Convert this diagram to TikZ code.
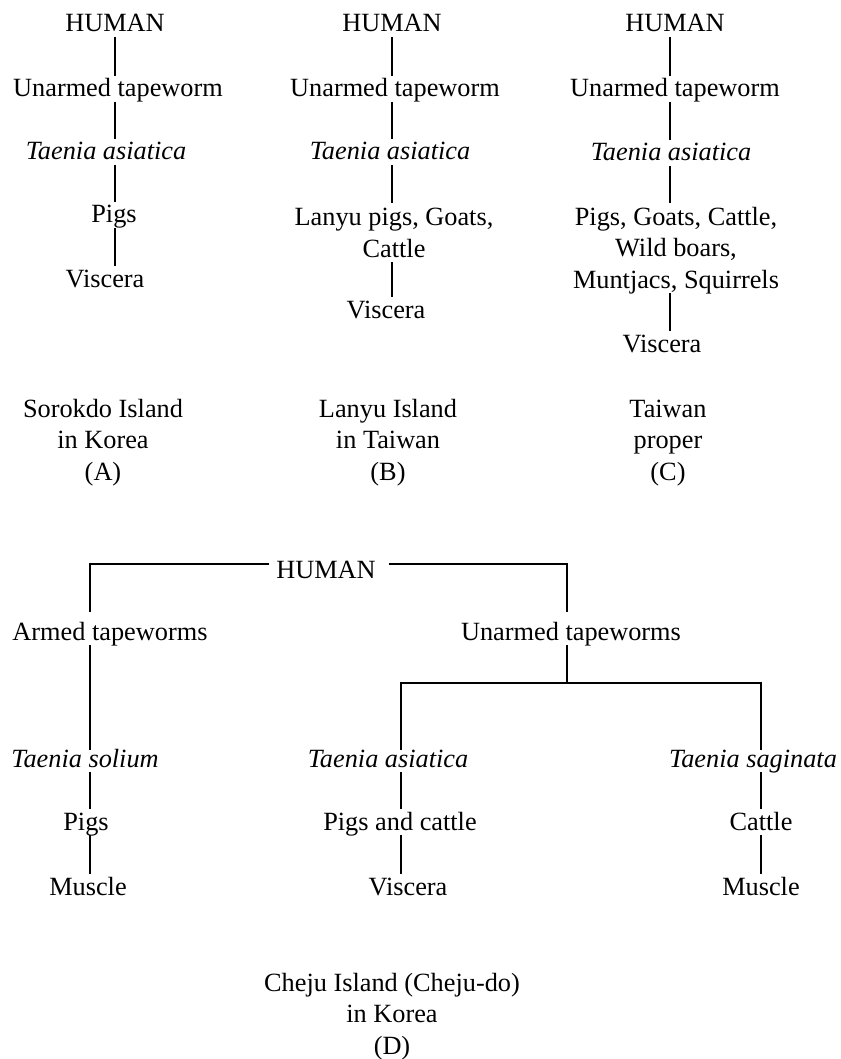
\documentclass[tikz,border=0pt]{standalone}
\usepackage{fontspec}
\setmainfont{Liberation Serif}
\begin{document}
\begin{tikzpicture}[x=1pt,y=-1pt,
  lbl/.style={font=\fontsize{26.3}{31.5}\selectfont, inner sep=0pt, outer sep=0pt, anchor=base, text depth=5pt},
  one/.style={lbl, text height=21pt},
  multi/.style={lbl},
  capt/.style={font=\fontsize{26.3}{31.5}\selectfont, inner sep=0pt, anchor=base},
  conn/.style={line width=1.4pt}]
\useasboundingbox (0,0) rectangle (840,1059);
\coordinate (cA) at (115,0);
\coordinate (cB) at (392,0);
\coordinate (cC) at (670,0);
% Panel A
\node[one] (hA) at (115,32) {HUMAN};
\node[one] (uA) at (118,97) {Unarmed tapeworm};
\node[one] (tA) at (106,160) {\itshape Taenia asiatica};
\node[one] (pA) at (114,223) {Pigs};
\node[one] (vA) at (105,287) {Viscera};
\draw[conn] (hA.south -| cA) -- (uA.north -| cA);
\draw[conn] (uA.south -| cA) -- (tA.north -| cA);
\draw[conn] (tA.south -| cA) -- (pA.north -| cA);
\draw[conn] (pA.south -| cA) -- (vA.north -| cA);
% Panel B
\node[one] (hB) at (392,32) {HUMAN};
\node[one] (uB) at (395,97) {Unarmed tapeworm};
\node[one] (tB) at (390,160) {\itshape Taenia asiatica};
\node[multi] (pB) at (394,257) {\begin{tabular}[b]{@{}c@{}}Lanyu pigs, Goats,\\Cattle\end{tabular}};
\node[one] (vB) at (386,318) {Viscera};
\draw[conn] (hB.south -| cB) -- (uB.north -| cB);
\draw[conn] (uB.south -| cB) -- (tB.north -| cB);
\draw[conn] (tB.south -| cB) -- (pB.north -| cB);
\draw[conn] (pB.south -| cB) -- (vB.north -| cB);
% Panel C
\node[one] (hC) at (675,32) {HUMAN};
\node[one] (uC) at (675,97) {Unarmed tapeworm};
\node[one] (tC) at (671,161) {\itshape Taenia asiatica};
\node[multi] (pC) at (676,288) {\begin{tabular}[b]{@{}c@{}}Pigs, Goats, Cattle,\\Wild boars,\\Muntjacs, Squirrels\end{tabular}};
\node[one] (vC) at (662,352) {Viscera};
\draw[conn] (hC.south -| cC) -- (uC.north -| cC);
\draw[conn] (uC.south -| cC) -- (tC.north -| cC);
\draw[conn] (tC.south -| cC) -- (pC.north -| cC);
\draw[conn] (pC.south -| cC) -- (vC.north -| cC);
% Captions
\node[capt] (kA) at (103,480) {\begin{tabular}[b]{@{}c@{}}Sorokdo Island\\in Korea\\(A)\end{tabular}};
\node[capt] (kB) at (388,480) {\begin{tabular}[b]{@{}c@{}}Lanyu Island\\in Taiwan\\(B)\end{tabular}};
\node[capt] (kC) at (668,480) {\begin{tabular}[b]{@{}c@{}}Taiwan\\proper\\(C)\end{tabular}};
% Panel D
\coordinate (cL) at (90,0);
\coordinate (cR) at (567,0);
\coordinate (cM) at (401,0);
\coordinate (cS) at (761,0);
\coordinate (jD) at (567,683);
\node[one] (hD) at (326,578) {HUMAN};
\node[one] (aD) at (110,640) {Armed tapeworms};
\node[one] (uD) at (571,640) {Unarmed tapeworms};
\node[one] (tsD) at (85,767) {\itshape Taenia solium};
\node[one] (psD) at (86,830) {Pigs};
\node[one] (msD) at (88,895) {Muscle};
\node[one] (tasD) at (388,767) {\itshape Taenia asiatica};
\node[one] (pcD) at (400,830) {Pigs and cattle};
\node[one] (vD) at (408,895) {Viscera};
\node[one] (tsgD) at (753,767) {\itshape Taenia saginata};
\node[one] (cD) at (761,830) {Cattle};
\node[one] (mD) at (761,895) {Muscle};
\draw[conn, shorten >=7pt] ([xshift=-7pt,yshift=14pt]hD.base west) -| (aD.north -| cL);
\draw[conn, shorten >=7pt] ([xshift=13pt,yshift=14pt]hD.base east) -| (uD.north -| cR);
\draw[conn, shorten >=-4pt] (aD.south -| cL) -- (tsD.north -| cL);
\draw[conn] (tsD.south -| cL) -- (psD.north -| cL);
\draw[conn] (psD.south -| cL) -- (msD.north -| cL);
\draw[conn] (uD.south -| cR) -- (jD);
\draw[conn, shorten <=-4pt, shorten >=-4pt] (tasD.north -| cM) |- (jD) -| (tsgD.north -| cS);
\draw[conn] (tasD.south -| cM) -- (pcD.north -| cM);
\draw[conn] (pcD.south -| cM) -- (vD.north -| cM);
\draw[conn] (tsgD.south -| cS) -- (cD.north -| cS);
\draw[conn] (cD.south -| cS) -- (mD.north -| cS);
\node[capt] (kD) at (392,1054) {\begin{tabular}[b]{@{}c@{}}Cheju Island (Cheju-do)\\in Korea\\(D)\end{tabular}};
\end{tikzpicture}
\end{document}
